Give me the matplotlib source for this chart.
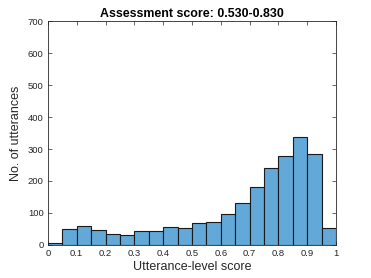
import numpy as np
import matplotlib.pyplot as plt

plt.rcParams['font.family'] = ['Liberation Sans', 'DejaVu Sans']

# histogram counts per 0.05-wide bin
bin_edges = [i * 0.05 for i in range(21)]
counts = [7, 51, 58, 48, 35, 32, 42, 42, 57, 54,
          70, 73, 96, 130, 182, 241, 278, 338, 285, 53]
x_ticks = [0, 0.1, 0.2, 0.3, 0.4, 0.5, 0.6, 0.7, 0.8, 0.9, 1]
x_tick_labels = ["0", "0.1", "0.2", "0.3", "0.4", "0.5", "0.6", "0.7", "0.8", "0.9", "1"]
y_ticks = [0, 100, 200, 300, 400, 500, 600, 700]


def main():
    fig = plt.figure(figsize=(3.71, 2.78), dpi=100)
    ax = fig.add_axes([0.129, 0.119, 0.777, 0.805])

    ax.hist(bin_edges[:-1], bins=bin_edges, weights=counts,
            color="#62a8d8", edgecolor="#1a1a1a", linewidth=0.8)

    ax.set_xlim(0, 1)
    ax.set_ylim(0, 700)
    ax.set_xticks(x_ticks)
    ax.set_xticklabels(x_tick_labels)
    ax.set_yticks(y_ticks)
    ax.tick_params(direction="in", top=True, right=True, labelsize=6.8,
                   colors="#262626", length=3, width=0.5, pad=3)
    for s in ax.spines.values():
        s.set_color("#262626")
        s.set_linewidth(0.6)

    ax.set_title("Assessment score: 0.530-0.830", fontsize=8.9, fontweight="bold", pad=3)
    ax.set_xlabel("Utterance-level score", fontsize=9, color="#262626", labelpad=2)
    ax.set_ylabel("No. of utterances", fontsize=9, color="#262626", labelpad=4)

    fig.savefig("out.png", dpi=100)


if __name__ == "__main__":
    main()
